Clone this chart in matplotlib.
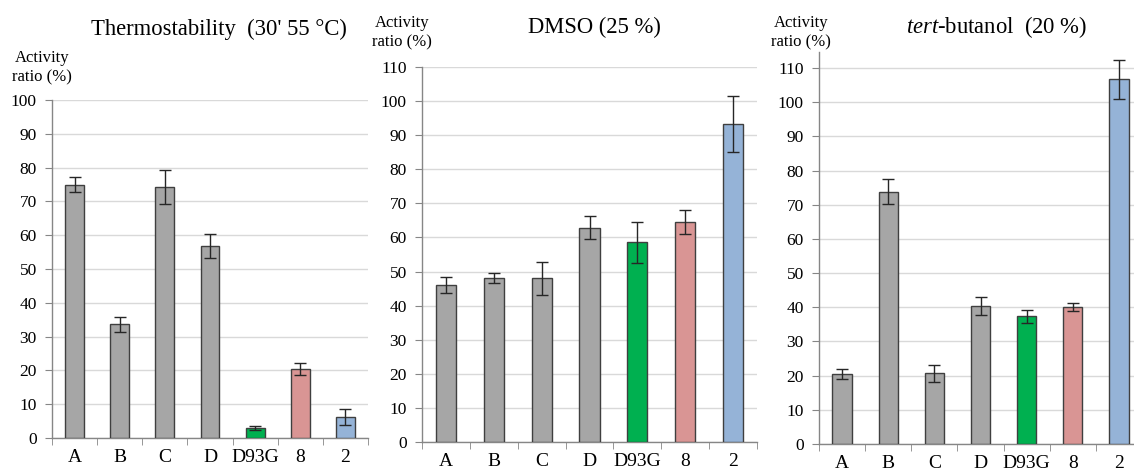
import matplotlib
matplotlib.use("Agg")
import matplotlib.pyplot as plt

plt.rcParams['font.family'] = ['Liberation Serif', 'DejaVu Serif']
plt.rcParams['mathtext.fontset'] = 'custom'
plt.rcParams['mathtext.rm'] = 'Liberation Serif'
plt.rcParams['mathtext.it'] = 'Liberation Serif:italic'

categories = ["A", "B", "C", "D", "D93G", "8", "2"]

thermo_vals = [75.0, 33.7, 74.2, 56.8, 3.0, 20.4, 6.2]
thermo_errs = [2.3, 2.2, 5.0, 3.6, 0.6, 1.8, 2.3]

dmso_vals = [46.1, 48.2, 48.0, 62.9, 58.6, 64.6, 93.3]
dmso_errs = [2.3, 1.5, 4.8, 3.3, 6.0, 3.6, 8.3]

tbut_vals = [20.5, 73.8, 20.7, 40.4, 37.4, 40.0, 106.7]
tbut_errs = [1.4, 3.6, 2.5, 2.7, 1.9, 1.2, 5.8]

bar_colors = ["#A6A6A6", "#A6A6A6", "#A6A6A6", "#A6A6A6", "#00B050", "#D99594", "#95B3D7"]

W, H = 1134, 468
fig = plt.figure(figsize=(W / 100, H / 100), dpi=100)


def px_axes(left, right, top, bottom):
    return fig.add_axes([left / W, (H - bottom) / H, (right - left) / W, (bottom - top) / H])


def draw(ax, vals, errs, ymax, yticks_max):
    x = list(range(len(categories)))
    ax.bar(x, vals, width=0.42, color=bar_colors, edgecolor="#3F3F3F", linewidth=1.0, zorder=3)
    ax.errorbar(x, vals, yerr=errs, fmt="none", ecolor="#262626", elinewidth=1.0,
                capsize=4, capthick=1.0, zorder=4)
    ax.set_xlim(-0.5, len(categories) - 0.5)
    ax.set_ylim(0, ymax)
    ax.set_yticks(range(0, yticks_max + 1, 10))
    ax.tick_params(axis="y", labelsize=12.5, length=5, color="#868686", direction="out", pad=6)
    ax.set_xticks(x)
    ax.set_xticklabels(categories, fontsize=14)
    ax.tick_params(axis="x", length=0, pad=8)
    ax.set_xticks([i + 0.5 for i in range(-1, len(categories))], minor=True)
    ax.tick_params(axis="x", which="minor", length=5, color="#868686", direction="out")
    ax.grid(axis="y", color="#D9D9D9", linewidth=1.0, zorder=0)
    for s in ["top", "right"]:
        ax.spines[s].set_visible(False)
    for s in ["left", "bottom"]:
        ax.spines[s].set_color("#868686")
        ax.spines[s].set_linewidth(1.0)
    ax.set_axisbelow(True)


ax1 = px_axes(52, 368, 100, 438)
draw(ax1, thermo_vals, thermo_errs, 100, 100)
ax2 = px_axes(422, 757, 67, 442)
draw(ax2, dmso_vals, dmso_errs, 110, 110)
ax3 = px_axes(819, 1142, 52, 444)
draw(ax3, tbut_vals, tbut_errs, 114.7, 110)

fig.text(219 / W, 1 - 29 / H, "Thermostability  (30' 55 °C)", ha="center", va="center", fontsize=16.3)
fig.text(594 / W, 1 - 27 / H, "DMSO (25 %)", ha="center", va="center", fontsize=16.3)
fig.text(997 / W, 1 - 27 / H, r"$\mathit{tert}$-butanol  (20 %)", ha="center", va="center", fontsize=16.3)

fig.text(42 / W, 1 - 68 / H, "Activity\nratio (%)", ha="center", va="center", fontsize=12, linespacing=1.3)
fig.text(402 / W, 1 - 33 / H, "Activity\nratio (%)", ha="center", va="center", fontsize=12, linespacing=1.3)
fig.text(801 / W, 1 - 33 / H, "Activity\nratio (%)", ha="center", va="center", fontsize=12, linespacing=1.3)

fig.savefig("out.png", dpi=100)
